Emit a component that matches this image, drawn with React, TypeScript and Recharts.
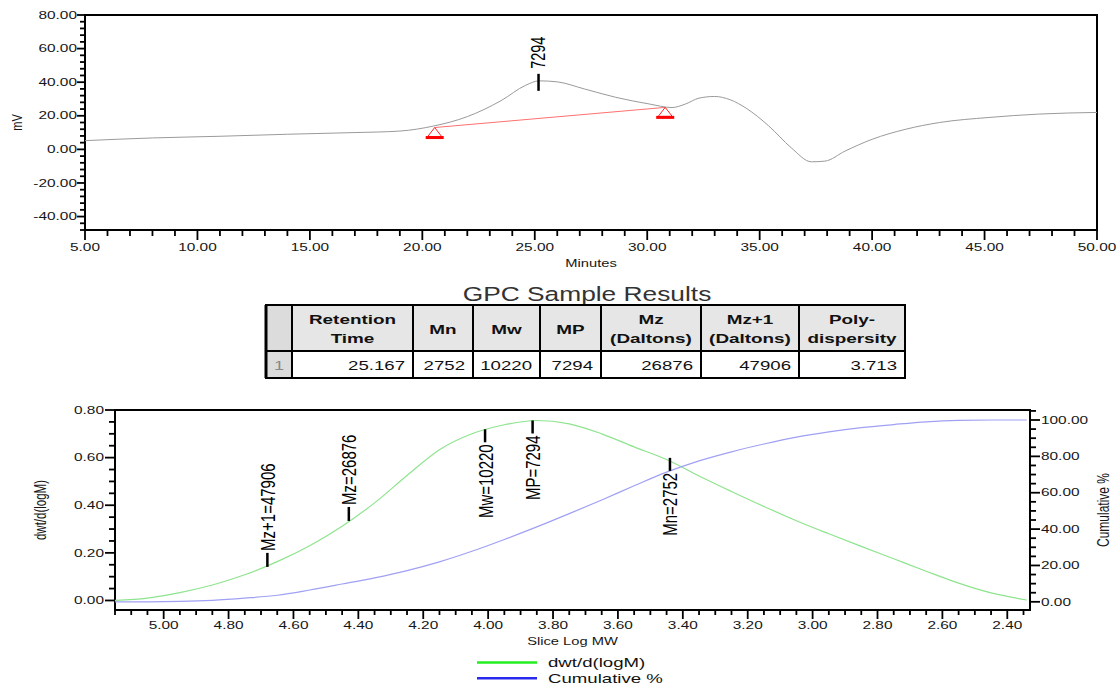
import React from 'react';
import { LineChart, Line, XAxis, YAxis, ReferenceArea, ReferenceDot, ReferenceLine } from 'recharts';

const FONT = '"Liberation Sans", Arial, Helvetica, sans-serif';
const SX = 1.4; // the report text is drawn wide

// chromatogram (top)
const minutes = [5.0, 8.0, 11.0, 14.0, 17.0, 19.0, 20.5, 22.0, 23.5, 24.6, 25.2, 26.0, 27.2, 28.6, 30.1, 31.1, 31.7, 32.3, 33.0, 33.7, 34.4, 35.4, 36.4, 37.3, 37.9, 38.8, 40.0, 41.5, 43.0, 45.2, 47.4, 50.0];
const detectorMv = [5.2, 6.8, 7.8, 9.0, 10.0, 10.9, 13.9, 19.5, 29.0, 38.2, 40.8, 40.2, 36.0, 31.0, 27.0, 24.9, 27.0, 30.5, 31.5, 29.5, 24.5, 14.0, 1.0, -7.4, -7.0, -1.0, 6.0, 12.0, 16.0, 19.0, 21.0, 22.0];
const peakTimes = [25.167];
const peakHeights = [40.8];
const peakLabels = ['7294'];
const baselineMinutes = [20.55, 30.8];
const baselineMv = [13.0, 25.0];

// results table
const resultHeaders = [['Retention', 'Time'], ['Mn'], ['Mw'], ['MP'], ['Mz', '(Daltons)'], ['Mz+1', '(Daltons)'], ['Poly-', 'dispersity']];
const resultRow = ['25.167', '2752', '10220', '7294', '26876', '47906', '3.713'];
const resultIndex = ['1'];

// molecular weight distribution (bottom)
const sliceLogMw = [5.15, 5.05, 4.95, 4.85, 4.75, 4.65, 4.55, 4.45, 4.35, 4.25, 4.15, 4.05, 3.95, 3.85, 3.75, 3.65, 3.55, 3.45, 3.35, 3.25, 3.15, 3.05, 2.95, 2.85, 2.75, 2.65, 2.55, 2.45, 2.34];
const dwtDlogM = [0.0, 0.01, 0.033, 0.065, 0.108, 0.163, 0.23, 0.312, 0.41, 0.525, 0.633, 0.7, 0.738, 0.756, 0.742, 0.7, 0.645, 0.592, 0.523, 0.458, 0.395, 0.335, 0.28, 0.227, 0.175, 0.123, 0.073, 0.032, 0.002];
const cumulativePct = [0.0, 0.0, 0.2, 0.8, 2.0, 3.6, 6.5, 9.8, 13.2, 17.2, 22.0, 27.8, 34.3, 41.2, 48.5, 56.0, 63.8, 71.3, 77.5, 82.5, 86.8, 90.6, 93.5, 95.8, 97.5, 99.0, 99.8, 100.0, 100.0];
const markerLabels = ['Mz+1=47906', 'Mz=26876', 'Mw=10220', 'MP=7294', 'Mn=2752'];
const markerMw = [47906, 26876, 10220, 7294, 2752];
const markerHeights = [0.141, 0.334, 0.719, 0.756, 0.599];
const markerAbove = [true, true, false, false, false];

const seriesNames = ['dwt/d(logM)', 'Cumulative %'];
const legendColors = ['#22ee22', '#2a2aee'];
const lineColors = ['#8ee48e', '#a0a0f4'];

const steps = (start: number, end: number, step: number) => {
  const n = Math.round((end - start) / step);
  return Array.from({ length: n + 1 }, (_, i) => +(start + i * step).toFixed(3));
};

const topXTicks = steps(5, 50, 1);
const topYTicks = steps(-48, 80, 4);
const botXTicks = steps(2.35, 5.15, 0.05);
const botYTicks = steps(0, 0.8, 0.05);
const botRTicks = steps(0, 105, 5);

const topData = minutes.map((m, i) => ({ min: m, mv: detectorMv[i] }));
const botData = sliceLogMw.map((v, i) => ({ logMw: v, dwt: dwtDlogM[i], cum: cumulativePct[i] }));

function SText({ x, y, children, size = 11, anchor = 'middle', weight = 400, fill = '#161616', rotate = false, sx = SX }: any) {
  return (
    <g transform={`translate(${x},${y}) scale(${sx},1)${rotate ? ' rotate(-90)' : ''}`}>
      <text x={0} y={0} textAnchor={anchor} dominantBaseline="central" fontFamily={FONT} fontSize={size} fontWeight={weight} fill={fill}>
        {children}
      </text>
    </g>
  );
}

const multipleOf = (step: number) => (v: number) => Math.abs(v / step - Math.round(v / step)) < 1e-6;

const makeTick = (side: 'bottom' | 'left' | 'right', isMajor: (v: number) => boolean, major: number, minor: number, gap: number) =>
  (props: any) => {
    const { x, y, payload } = props;
    const v = payload.value as number;
    const big = isMajor(v);
    const len = big ? major : minor;
    if (side === 'bottom') {
      return (
        <g>
          <line x1={x} x2={x} y1={y} y2={y + len} stroke="#000" strokeWidth={1.8} />
          {big && <SText x={x} y={y + gap}>{v.toFixed(2)}</SText>}
        </g>
      );
    }
    if (side === 'left') {
      return (
        <g>
          <line x1={x - len} x2={x} y1={y} y2={y} stroke="#000" strokeWidth={1.8} />
          {big && <SText x={x - gap} y={y} anchor="end">{v.toFixed(2)}</SText>}
        </g>
      );
    }
    return (
      <g>
        <line x1={x} x2={x + len} y1={y} y2={y} stroke="#000" strokeWidth={1.8} />
        {big && <SText x={x + gap} y={y} anchor="start">{v.toFixed(2)}</SText>}
      </g>
    );
  };

const topXTick = makeTick('bottom', multipleOf(5), 10, 6, 17);
const topYTick = makeTick('left', multipleOf(20), 8, 5, 8);
const botXTick = makeTick('bottom', multipleOf(0.2), 9, 5, 15);
const botYTick = makeTick('left', multipleOf(0.2), 10, 6, 11);
const botRTick = makeTick('right', multipleOf(20), 10, 6, 11);

const BaseMark = (p: any) => (
  <g>
    <polygon points={`${p.cx},${p.cy} ${p.cx - 7},${p.cy + 9} ${p.cx + 7},${p.cy + 9}`} fill="none" stroke="#ff2020" strokeWidth={1} />
    <line x1={p.cx - 9} x2={p.cx + 9} y1={p.cy + 10} y2={p.cy + 10} stroke="#ff0000" strokeWidth={3} />
  </g>
);

const PeakMark = ({ cx, cy, text }: any) => (
  <g>
    <line x1={cx} x2={cx} y1={cy - 7} y2={cy + 10} stroke="#000" strokeWidth={2.5} />
    <SText x={cx} y={cy - 12} size={14.5} anchor="start" rotate fill="#000">{text}</SText>
  </g>
);

const MwMark = ({ cx, cy, text, above }: any) =>
  above ? (
    <g>
      <line x1={cx} x2={cx} y1={cy - 14} y2={cy} stroke="#000" strokeWidth={2.5} />
      <SText x={cx} y={cy - 16} size={15} anchor="start" rotate fill="#000">{text}</SText>
    </g>
  ) : (
    <g>
      <line x1={cx} x2={cx} y1={cy} y2={cy + 13} stroke="#000" strokeWidth={2.5} />
      <SText x={cx} y={cy + 15} size={15} anchor="end" rotate fill="#000">{text}</SText>
    </g>
  );

const colEdges = [266, 292, 413, 473, 540, 601, 701, 799, 905];
const rowEdges = [305, 351, 378];

function ResultsTable() {
  const headTop = rowEdges[0];
  const headBottom = rowEdges[1];
  const bottom = rowEdges[2];
  return (
    <g>
      <SText x={587} y={294} size={19.5} sx={1.35} fill="#333">GPC Sample Results</SText>
      <rect x={colEdges[0]} y={headTop} width={colEdges[1] - colEdges[0]} height={bottom - headTop} fill="#dcdcdc" />
      <rect x={colEdges[1]} y={headTop} width={colEdges[8] - colEdges[1]} height={headBottom - headTop} fill="#e6e6e6" />
      {colEdges.map((cx, i) => (
        <line key={'v' + i} x1={cx} x2={cx} y1={headTop} y2={bottom} stroke="#000" strokeWidth={i === 0 ? 3 : 2} />
      ))}
      {rowEdges.map((ry, i) => (
        <line key={'h' + i} x1={colEdges[0] - 1} x2={colEdges[8] + 1} y1={ry} y2={ry} stroke="#000" strokeWidth={2} />
      ))}
      {resultHeaders.map((lines, i) => {
        const mid = (colEdges[i + 1] + colEdges[i + 2]) / 2;
        return lines.map((ln, j) => (
          <SText key={i + '-' + j} x={mid} y={lines.length === 1 ? 329 : 319 + j * 19} size={13.5} weight={700} fill="#111">{ln}</SText>
        ));
      })}
      {resultIndex.map((t) => (
        <SText key={t} x={(colEdges[0] + colEdges[1]) / 2} y={365} size={13} fill="#888">{t}</SText>
      ))}
      {resultRow.map((t, i) => (
        <SText key={'d' + i} x={colEdges[i + 2] - 8} y={365} size={13.3} anchor="end" fill="#111">{t}</SText>
      ))}
    </g>
  );
}

export default function App() {
  return (
    <div style={{ position: 'absolute', left: 0, top: 0, width: 1119, height: 686, background: '#fff' }}>
      <div style={{ position: 'absolute', left: 0, top: 0 }}>
        <LineChart width={1119} height={270} data={topData} margin={{ top: 15, right: 22, bottom: 0, left: 0 }}>
          <XAxis
            type="number" dataKey="min" domain={[5, 50]} allowDataOverflow ticks={topXTicks} interval={0}
            tickSize={0} tickMargin={0} axisLine={false} tickLine={false} tick={topXTick} height={40}
            label={{ content: (p: any) => <SText x={p.viewBox.x + p.viewBox.width / 2} y={p.viewBox.y + 33} size={10.5}>Minutes</SText> }}
          />
          <YAxis
            type="number" domain={[-48, 80]} allowDataOverflow ticks={topYTicks} interval={0}
            tickSize={0} tickMargin={0} axisLine={false} tickLine={false} tick={topYTick} width={85}
            label={{ content: (p: any) => <SText x={17} y={p.viewBox.y + p.viewBox.height / 2} size={11} rotate>mV</SText> }}
          />
          <ReferenceLine
            segment={[{ x: baselineMinutes[0], y: baselineMv[0] }, { x: baselineMinutes[1], y: baselineMv[1] }]}
            stroke="#ff7070" strokeWidth={1}
          />
          <Line type="monotone" dataKey="mv" stroke="#9a9a9a" strokeWidth={1} dot={false} activeDot={false} isAnimationActive={false} />
          {baselineMinutes.map((m, i) => (
            <ReferenceDot key={'b' + i} x={m} y={baselineMv[i]} r={0} shape={BaseMark} />
          ))}
          {peakTimes.map((t, i) => (
            <ReferenceDot key={'p' + i} x={t} y={peakHeights[i]} r={0} shape={(p: any) => <PeakMark {...p} text={peakLabels[i]} />} />
          ))}
          <ReferenceArea x1={5} x2={50} y1={-48} y2={80} fill="none" stroke="#000" strokeWidth={2} />
        </LineChart>
      </div>

      <div style={{ position: 'absolute', left: 0, top: 390 }}>
        <LineChart width={1119} height={260} data={botData} margin={{ top: 20, right: 0, bottom: 0, left: 0 }}>
          <XAxis
            type="number" dataKey="logMw" domain={[2.33, 5.15]} reversed allowDataOverflow ticks={botXTicks} interval={0}
            tickSize={0} tickMargin={0} axisLine={false} tickLine={false} tick={botXTick} height={40}
            label={{ content: (p: any) => <SText x={p.viewBox.x + p.viewBox.width / 2} y={p.viewBox.y + 31} size={10.5}>Slice Log MW</SText> }}
          />
          <YAxis
            yAxisId="left" type="number" domain={[-0.04, 0.8]} allowDataOverflow ticks={botYTicks} interval={0}
            tickSize={0} tickMargin={0} axisLine={false} tickLine={false} tick={botYTick} width={115}
            label={{ content: (p: any) => <SText x={40} y={p.viewBox.y + p.viewBox.height / 2} size={11.5} rotate>dwt/d(logM)</SText> }}
          />
          <YAxis
            yAxisId="right" orientation="right" type="number" domain={[-4.5, 105.5]} allowDataOverflow ticks={botRTicks} interval={0}
            tickSize={0} tickMargin={0} axisLine={false} tickLine={false} tick={botRTick} width={89}
            label={{ content: (p: any) => <SText x={1103} y={p.viewBox.y + p.viewBox.height / 2} size={12} rotate>Cumulative %</SText> }}
          />
          <Line yAxisId="left" type="monotone" dataKey="dwt" name={seriesNames[0]} stroke={lineColors[0]} strokeWidth={1.2} dot={false} activeDot={false} isAnimationActive={false} />
          <Line yAxisId="right" type="monotone" dataKey="cum" name={seriesNames[1]} stroke={lineColors[1]} strokeWidth={1.2} dot={false} activeDot={false} isAnimationActive={false} />
          {markerMw.map((mw, i) => (
            <ReferenceDot
              key={'m' + i} yAxisId="left" x={Math.log10(mw)} y={markerHeights[i]} r={0}
              shape={(p: any) => <MwMark {...p} text={markerLabels[i]} above={markerAbove[i]} />}
            />
          ))}
          <ReferenceArea yAxisId="left" x1={2.33} x2={5.15} y1={-0.04} y2={0.8} fill="none" stroke="#000" strokeWidth={2} />
        </LineChart>
      </div>

      <svg width={1119} height={686} style={{ position: 'absolute', left: 0, top: 0, pointerEvents: 'none' }}>
        <ResultsTable />
        {seriesNames.map((name, i) => (
          <g key={name}>
            <line x1={477} x2={537} y1={662.5 + i * 15.8} y2={662.5 + i * 15.8} stroke={legendColors[i]} strokeWidth={2.5} />
            <SText x={548} y={662 + i * 15.8} size={13.3} anchor="start" fill="#111">{name}</SText>
          </g>
        ))}
      </svg>
    </div>
  );
}
